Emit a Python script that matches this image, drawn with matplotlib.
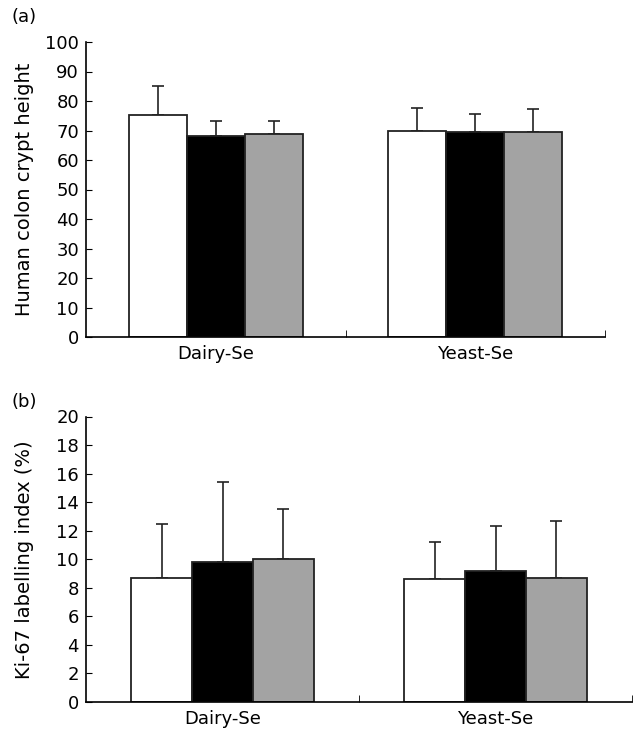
import matplotlib.pyplot as plt
import numpy as np

plt.rcParams['font.family'] = ['DejaVu Sans']

groups = ["Dairy-Se", "Yeast-Se"]
colors = ["white", "black", "#a3a3a3"]

# (a) crypt height, three bars per group, upper SD only
crypt_mean = [[75.3, 68.1, 68.9], [69.8, 69.5, 69.5]]
crypt_sd = [[9.8, 5.2, 4.4], [7.9, 6.2, 7.8]]

# (b) Ki-67 labelling index
ki67_mean = [[8.7, 9.8, 10.0], [8.6, 9.2, 8.7]]
ki67_sd = [[3.8, 5.6, 3.5], [2.6, 3.1, 4.0]]

W, H = 637, 729
fig = plt.figure(figsize=(W / 100, H / 100), dpi=100)
ax1 = fig.add_axes([86 / W, 1 - 337 / H, 519 / W, 295 / H])
ax2 = fig.add_axes([86 / W, 1 - 702 / H, 546 / W, 285.5 / H])


def draw(ax, means, sds, ymax, step, ylabel, tag, tag_y):
    w = 0.67 / 3
    x = np.arange(len(groups)) + 0.5
    for i in range(3):
        m = [g[i] for g in means]
        s = [g[i] for g in sds]
        pos = x + (i - 1) * w
        ax.bar(pos, m, width=w, color=colors[i], edgecolor="#222222",
               linewidth=1.3, zorder=2)
        ax.errorbar(pos, m, yerr=[np.zeros(len(s)), s], fmt="none",
                    ecolor="#222222", elinewidth=1.2, capsize=4.5,
                    capthick=1.2, zorder=1)
    ax.set_xlim(0, 2)
    ax.set_ylim(0, ymax)
    ax.set_yticks(np.arange(0, ymax + 1, step))
    ax.set_xticks(x)
    ax.set_xticklabels(groups)
    ax.tick_params(axis="x", length=0, labelsize=13, pad=6)
    ax.set_xticks([1, 2], minor=True)
    ax.tick_params(axis="x", which="minor", direction="in", length=5)
    ax.tick_params(axis="y", direction="in", length=4, labelsize=13, pad=5)
    for side in ["top", "right"]:
        ax.spines[side].set_visible(False)
    ax.spines["left"].set_linewidth(1.2)
    ax.spines["bottom"].set_linewidth(1.2)
    ax.set_ylabel(ylabel, fontsize=14)
    bb = ax.get_position()
    ax.yaxis.set_label_coords((34 / W - bb.x0) / bb.width, 0.5)
    fig.text(12 / W, 1 - tag_y / H, tag, fontsize=13, va="top")


draw(ax1, crypt_mean, crypt_sd, 100, 10, "Human colon crypt height", "(a)", 8)
draw(ax2, ki67_mean, ki67_sd, 20, 2, "Ki-67 labelling index (%)", "(b)", 393)

fig.savefig("out.png", dpi=100)
